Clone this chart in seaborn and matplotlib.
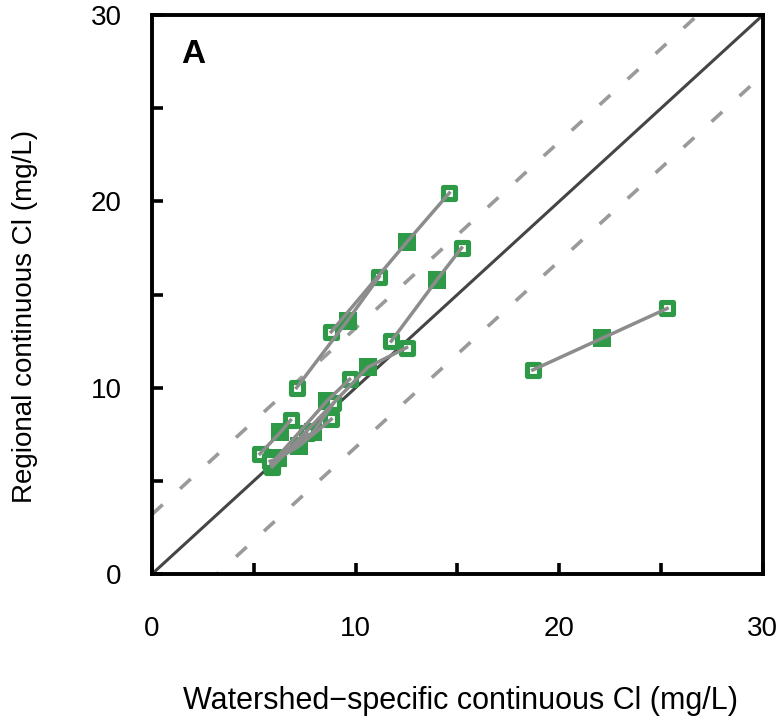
import numpy as np
import matplotlib
matplotlib.use("Agg")
import matplotlib.pyplot as plt
import pandas as pd
import seaborn as sns

# one polyline per watershed: hollow end - filled middle - hollow end
group = [1, 1, 1, 2, 2, 2, 3, 3, 3, 4, 4, 4, 5, 5, 5,
         6, 6, 6, 7, 7, 7, 8, 8, 8, 9, 9, 9, 10, 10, 10]
watershed_cl = [18.7, 22.1, 25.3, 8.8, 12.5, 14.6, 7.1, 9.6, 11.15, 11.75, 14.0, 15.2,
                5.9, 10.6, 12.5, 5.85, 8.6, 9.7, 5.3, 6.3, 6.8, 5.9, 7.2, 8.8,
                5.9, 7.9, 8.9, 5.8, 6.2, 7.6]
regional_cl = [10.95, 12.65, 14.25, 13.0, 17.8, 20.45, 10.0, 13.6, 15.95, 12.5, 15.8, 17.5,
               5.75, 11.1, 12.15, 5.9, 9.3, 10.45, 6.45, 7.6, 8.25, 6.0, 6.85, 8.3,
               5.9, 7.6, 9.15, 6.05, 6.2, 7.55]
kind = ["open", "filled", "open"] * 10

band = 3.2  # offset of the dashed lines from 1:1

df = pd.DataFrame({"group": group, "x": watershed_cl, "y": regional_cl, "kind": kind})

plt.rcParams["font.family"] = ["Liberation Sans", "DejaVu Sans"]
plt.rcParams["font.size"] = 20

fig = plt.figure(figsize=(7.84, 7.21), dpi=100)
ax = fig.add_axes([0.194, 0.204, 0.779, 0.775])

green = "#2e9a48"
lims = np.array([0, 30])
ax.plot(lims, lims, color="#454545", lw=2.2, zorder=1)
ax.plot(lims, lims + band, color="#9a9a9a", lw=2.6, dashes=(4, 6.5), zorder=1)
ax.plot(lims, lims - band, color="#9a9a9a", lw=2.6, dashes=(4, 6.5), zorder=1)

sns.scatterplot(data=df[df.kind == "filled"], x="x", y="y", marker="s", s=150,
                color=green, linewidth=0, ax=ax, zorder=3)
sns.scatterplot(data=df[df.kind == "open"], x="x", y="y", marker="s", s=75,
                facecolor="white", edgecolor=green, linewidth=3.7, ax=ax, zorder=3)
sns.lineplot(data=df, x="x", y="y", units="group", estimator=None, sort=False,
             color="#8c8c8c", lw=2.5, ax=ax, zorder=4)

ax.set_xlim(0, 30)
ax.set_ylim(0, 30)
ax.set_xticks(np.arange(0, 31, 5))
ax.set_yticks(np.arange(0, 31, 5))
ax.set_xticklabels(["0", "", "10", "", "20", "", "30"])
ax.set_yticklabels(["0", "", "10", "", "20", "", "30"])
ax.tick_params(direction="in", length=8, width=2.6, color="black")
ax.tick_params(axis="x", pad=30)
ax.tick_params(axis="y", pad=22)
for sp in ax.spines.values():
    sp.set_linewidth(2.8)
    sp.set_color("black")

ax.set_xlabel("Watershed\u2212specific continuous Cl (mg/L)", fontsize=22)
ax.set_ylabel("Regional continuous Cl (mg/L)", fontsize=20)
ax.xaxis.set_label_coords(0.505, -0.2)
ax.yaxis.set_label_coords(-0.187, 0.46)
ax.text(0.068, 0.929, "A", transform=ax.transAxes, fontsize=24, fontweight="bold",
        ha="center", va="center")

fig.savefig("out.png", dpi=100)
